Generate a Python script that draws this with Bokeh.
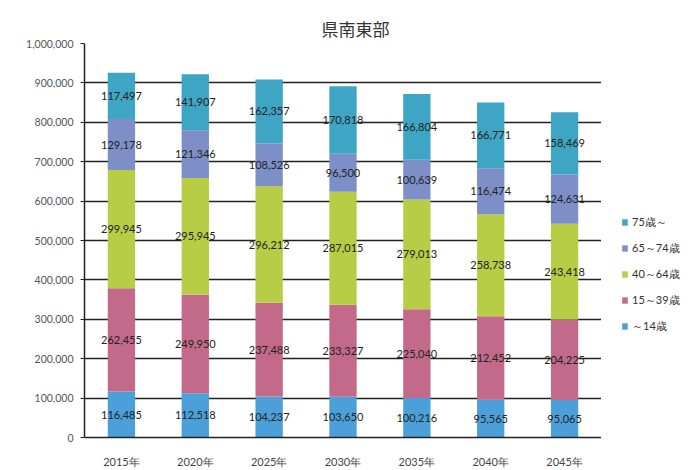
from bokeh.plotting import figure
from bokeh.layouts import row
from bokeh.models import (ColumnDataSource, FactorRange, Range1d, Legend, LegendItem,
                          NumeralTickFormatter, FixedTicker)
from bokeh.core.properties import value
from bokeh.embed import file_html
from bokeh.resources import INLINE

# ---- data ----
years = ["2015年", "2020年", "2025年", "2030年", "2035年", "2040年", "2045年"]
age_groups = ["～14歳", "15～39歳", "40～64歳", "65～74歳", "75歳～"]
age_0_14 = [116485, 112518, 104237, 103650, 100216, 95565, 95065]
age_15_39 = [262455, 249950, 237488, 233327, 225040, 212452, 204225]
age_40_64 = [299945, 295945, 296212, 287015, 279013, 258738, 243418]
age_65_74 = [129178, 121346, 108526, 96500, 100639, 116474, 124631]
age_75_up = [117497, 141907, 162357, 170818, 166804, 166771, 158469]
y_ticks = [0, 100000, 200000, 300000, 400000, 500000, 600000, 700000, 800000, 900000, 1000000]
colors = ["#4ba0da", "#c3698a", "#b6cd45", "#7d8fc6", "#3fa5c4"]

series = [age_0_14, age_15_39, age_40_64, age_65_74, age_75_up]
keys = ["s0", "s1", "s2", "s3", "s4"]
data = {"year": years}
for k, s in zip(keys, series):
    data[k] = s
src = ColumnDataSource(data)

p = figure(x_range=FactorRange(*years), y_range=Range1d(0, 1000000),
           width=601, height=470, output_backend="svg", toolbar_location=None,
           min_border_left=84, min_border_right=0, min_border_top=43, min_border_bottom=27)
p.background_fill_color = "white"
p.border_fill_color = "white"
p.outline_line_color = None

# title
p.title.text = "県南東部"
p.title.text_font = "Noto Sans CJK JP"
p.title.text_font_size = "17px"
p.title.text_font_style = "normal"
p.title.text_color = "#333333"
p.title.align = "left"
p.title.offset = 237
p.title.standoff = 5

rs = p.vbar_stack(keys, x="year", width=0.37, color=colors, line_color=None, source=src)

# data labels
lx, ly, lt = [], [], []
for i, yr in enumerate(years):
    base = 0
    for s in series:
        v = s[i]
        lx.append(yr)
        ly.append(base + v / 2)
        lt.append(f"{v:,}")
        base += v
lsrc = ColumnDataSource(dict(x=lx, y=ly, t=lt))
p.text(x="x", y="y", text="t", source=lsrc, text_font=value("Lato"),
       text_font_size="11px", text_align="center", text_baseline="middle",
       text_color="#222222")

# axes / grid
p.yaxis.ticker = FixedTicker(ticks=y_ticks)
p.yaxis.formatter = NumeralTickFormatter(format="0,0")
p.yaxis.major_label_text_font = "Lato"
p.yaxis.major_label_text_font_size = "10.5px"
p.yaxis.major_label_text_color = "#555555"
p.yaxis.axis_line_color = "#222222"
p.yaxis.axis_line_width = 1.5
p.yaxis.major_tick_line_color = "#222222"
p.yaxis.major_tick_out = 4
p.yaxis.major_tick_in = 0
p.yaxis.minor_tick_line_color = None
p.yaxis.major_label_standoff = 7

p.xaxis.major_label_text_font = "Lato"
p.xaxis.major_label_text_font_size = "11px"
p.xaxis.major_label_text_color = "#444444"
p.xaxis.axis_line_color = "#222222"
p.xaxis.axis_line_width = 1.5
p.xaxis.major_tick_line_color = None
p.xaxis.major_label_standoff = 11

p.xgrid.grid_line_color = None
p.ygrid.grid_line_color = "#222222"
p.ygrid.grid_line_width = 1.3

# legend panel (separate figure to the right)
lf = figure(width=89, height=470, output_backend="svg", toolbar_location=None,
            min_border=0, x_range=Range1d(0, 1), y_range=Range1d(0, 1))
lf.axis.visible = False
lf.grid.visible = False
lf.outline_line_color = None
lf.background_fill_color = "white"
lf.border_fill_color = "white"
dummies = [lf.vbar(x=[0], top=[0], bottom=[0], width=0.01, fill_color=c, line_color=None)
           for c in colors]
items = [LegendItem(label=age_groups[i], renderers=[dummies[i]]) for i in reversed(range(5))]
legend = Legend(items=items, location=(20, 101), padding=0, margin=0, spacing=6,
                label_height=20, glyph_height=8, glyph_width=7, label_standoff=4,
                label_text_font="Lato", label_text_font_size="11px",
                label_text_color="#333333", border_line_color=None,
                background_fill_alpha=0)
lf.add_layout(legend)

layout = row(p, lf, spacing=0)
open("out.html", "w").write(file_html(layout, INLINE))
